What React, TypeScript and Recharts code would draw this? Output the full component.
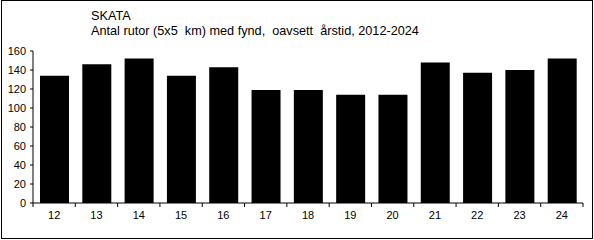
import React from 'react';
import { BarChart, Bar, XAxis, YAxis } from 'recharts';

const years = ['12', '13', '14', '15', '16', '17', '18', '19', '20', '21', '22', '23', '24'];
const counts = [134, 146, 152, 134, 143, 119, 119, 114, 114, 148, 137, 140, 152];
const yTicks = [0, 20, 40, 60, 80, 100, 120, 140, 160];
const titleLine1 = 'SKATA';
const titleLine2 = 'Antal rutor (5x5  km) med fynd,  oavsett  årstid, 2012-2024';

const data = years.map((y, i) => ({ year: y, count: counts[i] }));

const W = 594;
const H = 240;
const M = { top: 51, right: 11, bottom: 7, left: 0 };
const X_H = 30;
const Y_W = 33;
const FONT = '"Liberation Sans", Arial, sans-serif';

const XTick = (props: any) => {
  const { x, y, payload, index } = props;
  const step = (W - M.left - M.right - Y_W) / years.length;
  const half = payload && payload.offset ? payload.offset : step / 2;
  const last = index === years.length - 1;
  return (
    <g>
      <line x1={x - half} x2={x - half} y1={y} y2={y + 4} stroke="#000" strokeWidth={1} />
      {last && <line x1={x + half} x2={x + half} y1={y} y2={y + 4} stroke="#000" strokeWidth={1} />}
      <text x={x} y={y + 16} textAnchor="middle" fontSize={11} fontFamily={FONT} fill="#000">
        {payload.value}
      </text>
    </g>
  );
};

export default function App() {
  return (
    <div style={{ position: 'absolute', left: 0, top: 0, width: W, height: H, background: '#fff' }}>
      <div
        style={{
          position: 'absolute',
          left: 1,
          top: 0,
          width: 592,
          height: 239,
          boxSizing: 'border-box',
          border: '1px solid #000',
        }}
      />
      <div
        style={{
          position: 'absolute',
          left: 91,
          top: 9,
          fontFamily: FONT,
          fontSize: 12.7,
          lineHeight: '15px',
          color: '#000',
          whiteSpace: 'pre',
        }}
      >
        <div>{titleLine1}</div>
        <div>{titleLine2}</div>
      </div>
      <div style={{ position: 'absolute', left: 0, top: 0 }}>
        <BarChart width={W} height={H} data={data} margin={M} barSize={29}>
          <XAxis
            dataKey="year"
            axisLine={{ stroke: '#000', strokeWidth: 1 }}
            tickLine={false}
            tickSize={0}
            tickMargin={0}
            tick={<XTick />}
            interval={0}
            height={X_H}
          />
          <YAxis
            domain={[0, 160]}
            ticks={yTicks}
            width={Y_W}
            axisLine={{ stroke: '#000', strokeWidth: 1 }}
            tickLine={{ stroke: '#000', strokeWidth: 1 }}
            tickSize={3}
            tickMargin={4}
            tick={{ fontSize: 11, fontFamily: FONT, fill: '#000' }}
            interval={0}
          />
          <Bar dataKey="count" fill="#000" isAnimationActive={false} />
        </BarChart>
      </div>
    </div>
  );
}
